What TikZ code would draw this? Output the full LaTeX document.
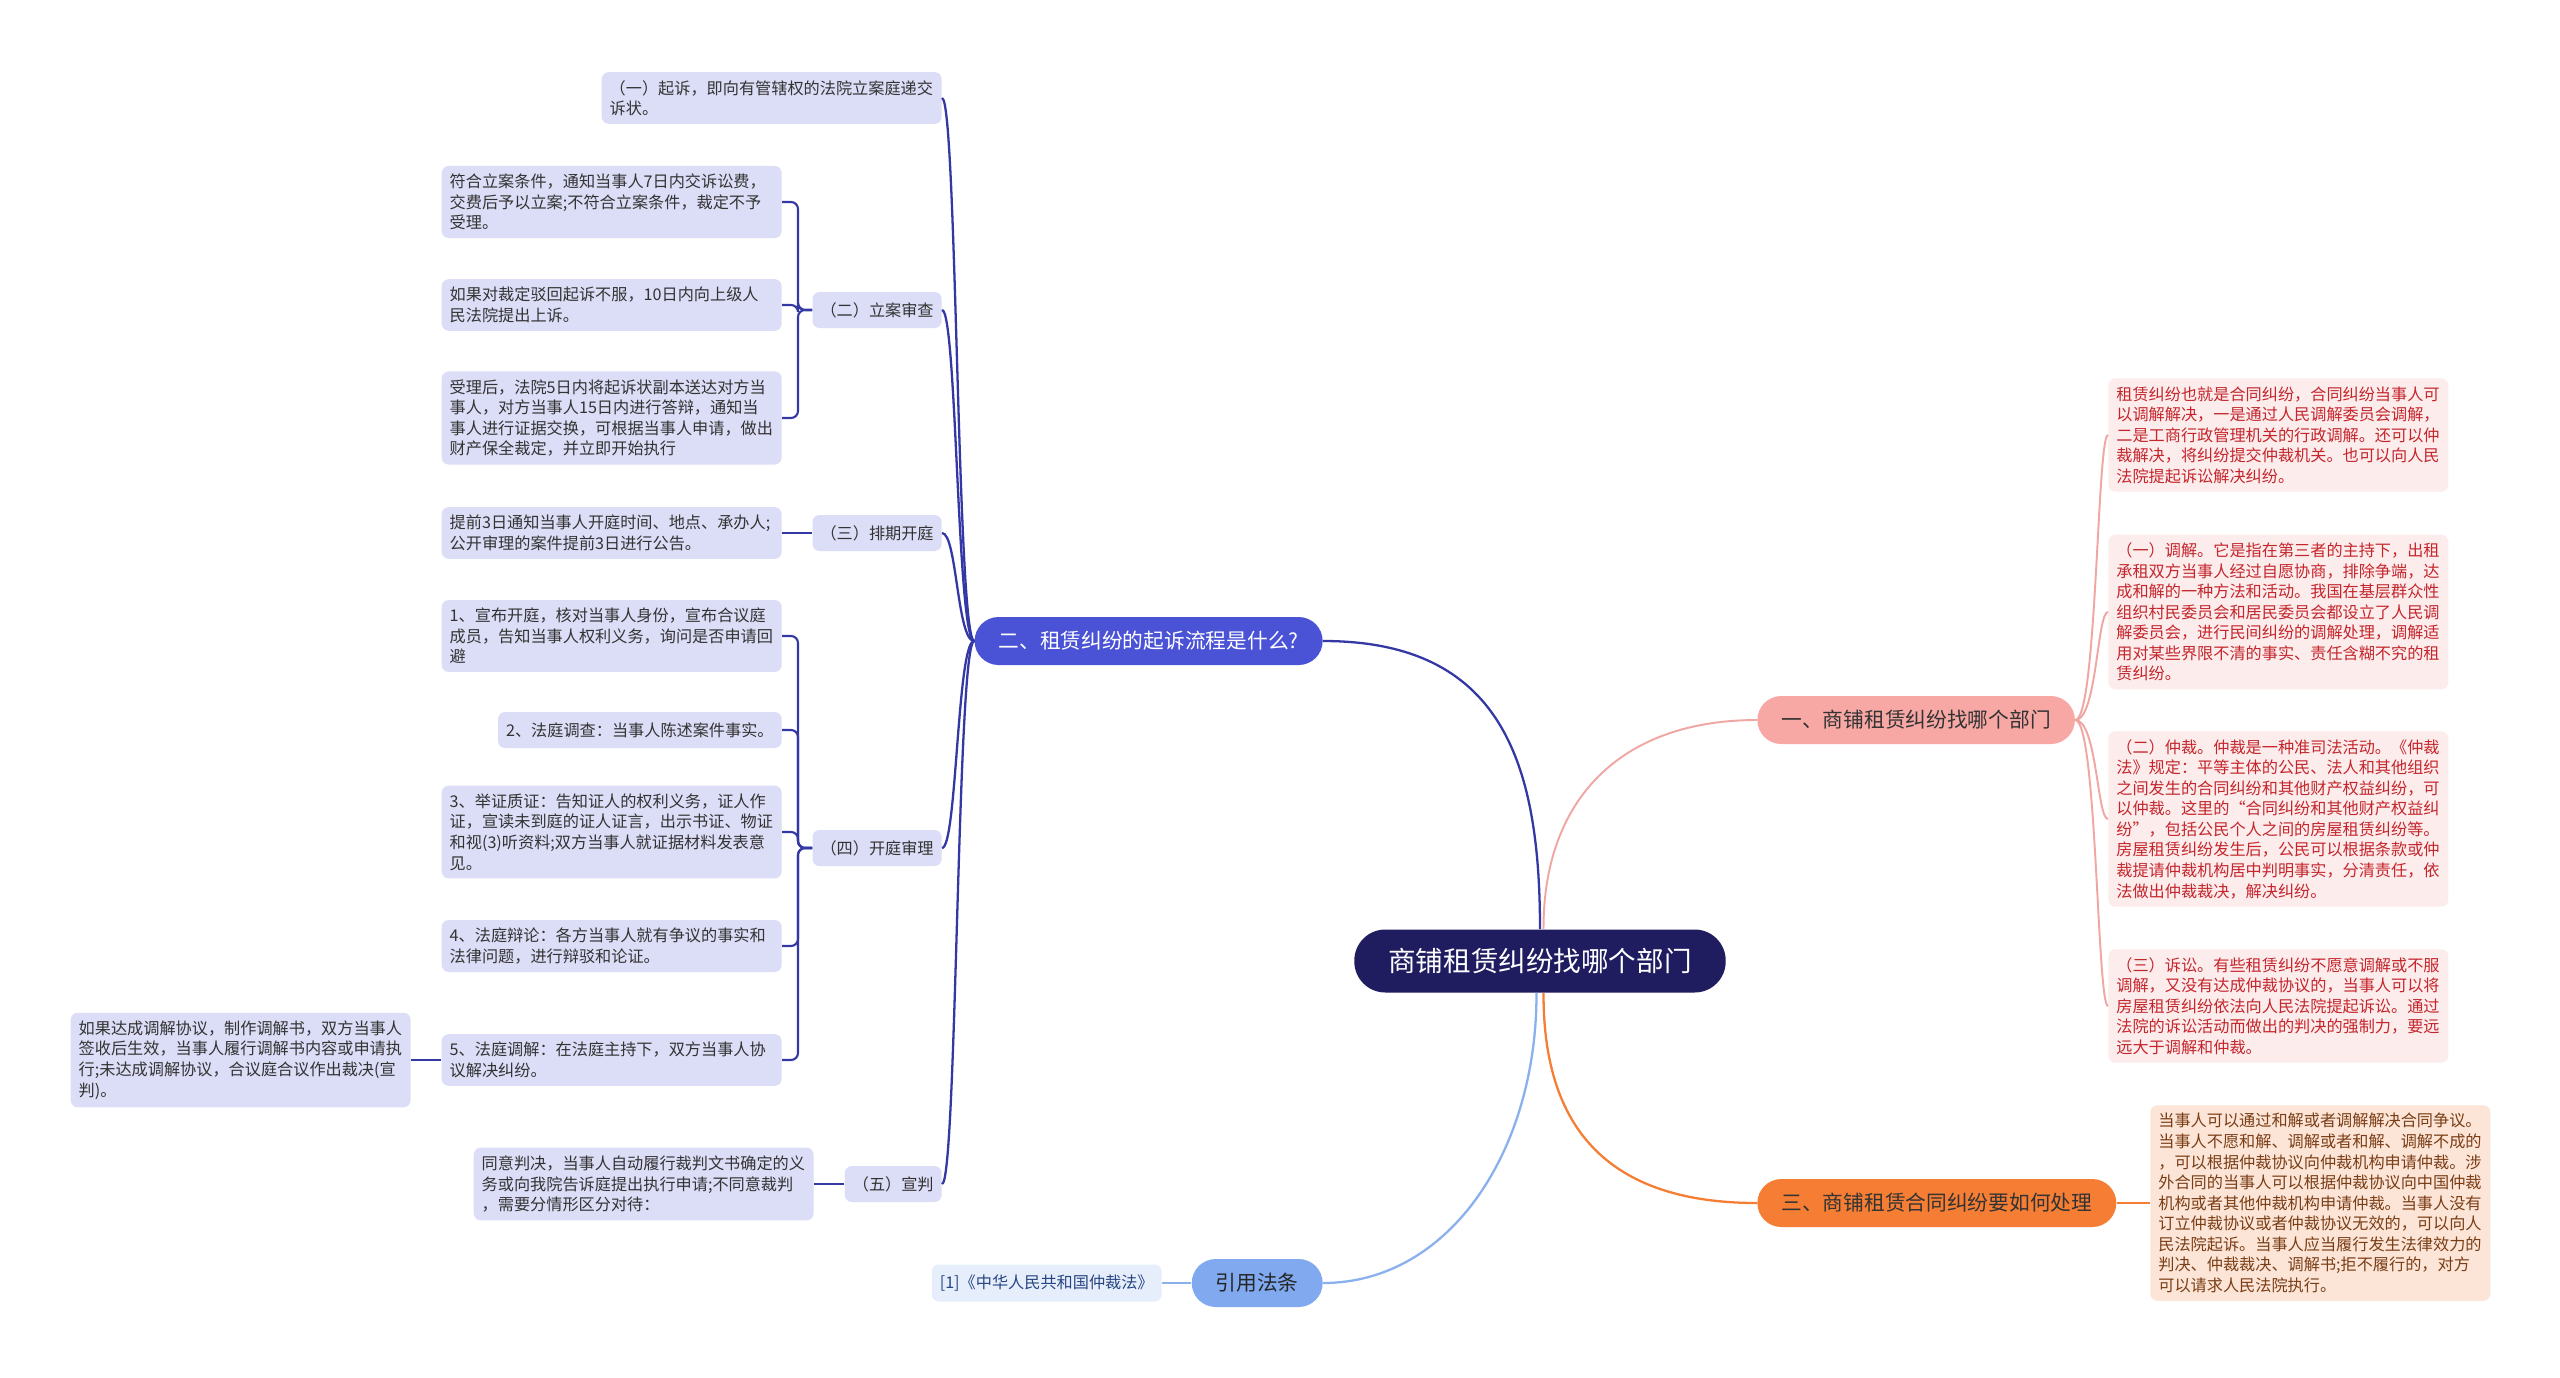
\documentclass[tikz,border=0pt]{standalone}
\usepackage{fontspec}
\setmainfont{Noto Sans CJK SC}
\usepackage{xcolor}
\definecolor{mmnavy}{RGB}{31,28,96}
\definecolor{mmindigo}{RGB}{74,82,214}
\definecolor{mmline}{RGB}{52,56,165}
\definecolor{mmlavender}{RGB}{220,221,247}
\definecolor{mmtext}{RGB}{51,51,51}
\definecolor{mmpink}{RGB}{247,168,165}
\definecolor{mmpinkline}{RGB}{240,166,162}
\definecolor{mmpinkfill}{RGB}{253,236,236}
\definecolor{mmred}{RGB}{196,38,44}
\definecolor{mmorange}{RGB}{245,126,52}
\definecolor{mmpeach}{RGB}{252,228,214}
\definecolor{mmbrown}{RGB}{122,62,22}
\definecolor{mmsky}{RGB}{128,169,240}
\definecolor{mmskyline}{RGB}{138,176,238}
\definecolor{mmskyfill}{RGB}{230,238,251}
\definecolor{mmskytext}{RGB}{40,70,130}
\usepackage{tikz}

\begin{document}
\begin{tikzpicture}[x=0.02cm,y=-0.02cm,
    every node/.style={font=\fontsize{9.2}{11.7}\selectfont,text=mmtext},
    root/.style={fill=mmnavy,text=white,rounded corners=0.62cm,minimum height=1.26cm,
      inner xsep=0.68cm,inner ysep=0pt,font=\fontsize{15.7}{18}\selectfont},
    branch/.style={rounded corners=0.48cm,minimum height=0.96cm,inner xsep=0.48cm,
      inner ysep=0pt,font=\fontsize{11.8}{14}\selectfont},
    sub/.style={fill=mmlavender,rounded corners=4pt,inner xsep=0.16cm,inner ysep=0.16cm,
      minimum height=0.72cm},
    leaf/.style={sub,text width=6.48cm,align=left},
    redleaf/.style={leaf,fill=mmpinkfill,text=mmred},
    tanleaf/.style={leaf,fill=mmpeach,text=mmbrown},
    citeleaf/.style={sub,fill=mmskyfill,text=mmskytext,minimum height=0.74cm},
    link2/.style={draw=mmline,line width=1.3pt},
    elbow/.style={draw=mmline,line width=1.2pt,rounded corners=4pt},
    link1/.style={draw=mmpinkline,line width=1.1pt},
    link3/.style={draw=mmorange,line width=1.3pt},
    link4/.style={draw=mmskyline,line width=1.3pt}]

  \useasboundingbox (0,0) rectangle (2560,1377);
  \fill[white] (0,0) rectangle (2560,1377);

  %% Root and main branches
  \node[root] (root) at (1540,961) {商铺租赁纠纷找哪个部门};
  \node[branch,fill=mmindigo,text=white,anchor=east] (b2) at (1323,641) {二、租赁纠纷的起诉流程是什么?};
  \node[branch,fill=mmpink,anchor=west] (b1) at (1757,720) {一、商铺租赁纠纷找哪个部门};
  \node[branch,fill=mmorange,anchor=west] (b3) at (1757,1203) {三、商铺租赁合同纠纷要如何处理};
  \node[branch,fill=mmsky,text=black!85,anchor=east] (b4) at (1323,1283) {引用法条};

  \draw[link2] (b2.east) .. controls (1500,641) and (1540,760) .. (root.north);
  \draw[link1] ([xshift=2pt]root.north) .. controls (1543,800) and (1620,720) .. (b1.west);
  \draw[link3] ([xshift=2pt]root.south) .. controls (1543,1120) and (1600,1203) .. (b3.west);
  \draw[link4] ([xshift=-2pt]root.south) .. controls (1537,1150) and (1450,1283) .. (b4.east);

  %% Branch 2: filing steps
  \node[leaf,anchor=east] (s1) at (942,98) {（一）起诉，即向有管辖权的法院立案庭递交\\诉状。};
  \node[sub,anchor=east] (s2) at (942,310) {（二）立案审查};
  \node[sub,anchor=east] (s3) at (942,533) {（三）排期开庭};
  \node[sub,anchor=east] (s4) at (942,848) {（四）开庭审理};
  \node[sub,anchor=east] (s5) at (942,1184) {（五）宣判};

  \foreach \s/\y in {s1/98,s2/310,s3/533,s4/848,s5/1184}
    \draw[link2] (b2.west) .. controls (957,641) and (957,\y) .. (\s.east);

  \node[leaf,anchor=east] (c21) at (782,202) {符合立案条件，通知当事人7日内交诉讼费，\\交费后予以立案;不符合立案条件，裁定不予\\受理。};
  \node[leaf,anchor=east] (c22) at (782,305) {如果对裁定驳回起诉不服，10日内向上级人\\民法院提出上诉。};
  \node[leaf,anchor=east] (c23) at (782,418) {受理后，法院5日内将起诉状副本送达对方当\\事人，对方当事人15日内进行答辩，通知当\\事人进行证据交换，可根据当事人申请，做出\\财产保全裁定，并立即开始执行};
  \foreach \c in {c21,c22,c23}
    \draw[elbow] (s2.west) -- (798,310) |- (\c.east);

  \node[leaf,anchor=east] (c31) at (782,533) {提前3日通知当事人开庭时间、地点、承办人;\\公开审理的案件提前3日进行公告。};
  \draw[elbow] (s3.west) -- (c31.east);

  \node[leaf,anchor=east] (c41) at (782,636) {1、宣布开庭，核对当事人身份，宣布合议庭\\成员，告知当事人权利义务，询问是否申请回\\避};
  \node[sub,anchor=east] (c42) at (782,730) {2、法庭调查：当事人陈述案件事实。};
  \node[leaf,anchor=east] (c43) at (782,832) {3、举证质证：告知证人的权利义务，证人作\\证，宣读未到庭的证人证言，出示书证、物证\\和视(3)听资料;双方当事人就证据材料发表意\\见。};
  \node[leaf,anchor=east] (c44) at (782,946) {4、法庭辩论：各方当事人就有争议的事实和\\法律问题，进行辩驳和论证。};
  \node[leaf,anchor=east] (c45) at (782,1060) {5、法庭调解：在法庭主持下，双方当事人协\\议解决纠纷。};
  \foreach \c in {c41,c42,c43,c44,c45}
    \draw[elbow] (s4.west) -- (798,848) |- (\c.east);

  \node[leaf,anchor=east] (c451) at (411,1060) {如果达成调解协议，制作调解书，双方当事人\\签收后生效，当事人履行调解书内容或申请执\\行;未达成调解协议，合议庭合议作出裁决(宣\\判)。};
  \draw[elbow] (c45.west) -- (c451.east);

  \node[leaf,anchor=east] (c51) at (814,1184) {同意判决，当事人自动履行裁判文书确定的义\\务或向我院告诉庭提出执行申请;不同意裁判\\，需要分情形区分对待：};
  \draw[elbow] (s5.west) -- (c51.east);

  %% Branch 1: which department
  \node[redleaf,anchor=west] (p1) at (2108,435) {租赁纠纷也就是合同纠纷，合同纠纷当事人可\\以调解解决，一是通过人民调解委员会调解，\\二是工商行政管理机关的行政调解。还可以仲\\裁解决，将纠纷提交仲裁机关。也可以向人民\\法院提起诉讼解决纠纷。};
  \node[redleaf,anchor=west] (p2) at (2108,612) {（一）调解。它是指在第三者的主持下，出租\\承租双方当事人经过自愿协商，排除争端，达\\成和解的一种方法和活动。我国在基层群众性\\组织村民委员会和居民委员会都设立了人民调\\解委员会，进行民间纠纷的调解处理，调解适\\用对某些界限不清的事实、责任含糊不究的租\\赁纠纷。};
  \node[redleaf,anchor=west] (p3) at (2108,819) {（二）仲裁。仲裁是一种准司法活动。《仲裁\\法》规定：平等主体的公民、法人和其他组织\\之间发生的合同纠纷和其他财产权益纠纷，可\\以仲裁。这里的“合同纠纷和其他财产权益纠\\纷”，包括公民个人之间的房屋租赁纠纷等。\\房屋租赁纠纷发生后，公民可以根据条款或仲\\裁提请仲裁机构居中判明事实，分清责任，依\\法做出仲裁裁决，解决纠纷。};
  \node[redleaf,anchor=west] (p4) at (2108,1006) {（三）诉讼。有些租赁纠纷不愿意调解或不服\\调解，又没有达成仲裁协议的，当事人可以将\\房屋租赁纠纷依法向人民法院提起诉讼。通过\\法院的诉讼活动而做出的判决的强制力，要远\\远大于调解和仲裁。};
  \foreach \p/\y in {p1/435,p2/612,p3/819,p4/1006}
    \draw[link1] (b1.east) .. controls (2097,720) and (2097,\y) .. (\p.west);

  %% Branch 3: contract disputes
  \node[tanleaf,anchor=west] (o1) at (2150,1203) {当事人可以通过和解或者调解解决合同争议。\\当事人不愿和解、调解或者和解、调解不成的\\，可以根据仲裁协议向仲裁机构申请仲裁。涉\\外合同的当事人可以根据仲裁协议向中国仲裁\\机构或者其他仲裁机构申请仲裁。当事人没有\\订立仲裁协议或者仲裁协议无效的，可以向人\\民法院起诉。当事人应当履行发生法律效力的\\判决、仲裁裁决、调解书;拒不履行的，对方\\可以请求人民法院执行。};
  \draw[link3] (b3.east) -- (o1.west);

  %% Citation
  \node[citeleaf,anchor=east] (r1) at (1162,1283) {[1]《中华人民共和国仲裁法》};
  \draw[link4] (b4.west) -- (r1.east);
\end{tikzpicture}
\end{document}
